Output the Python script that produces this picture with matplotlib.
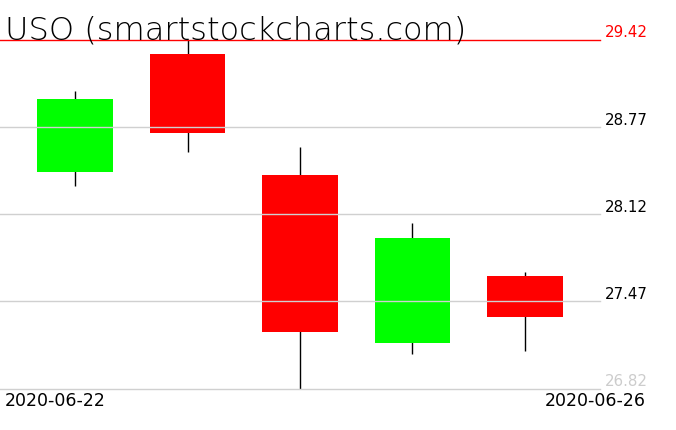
import matplotlib
matplotlib.use("Agg")
import matplotlib.pyplot as plt

# ------------------------------------------------------------
# Data: USO daily candles
# ------------------------------------------------------------
dates = ["2020-06-22", "2020-06-23", "2020-06-24", "2020-06-25", "2020-06-26"]
opens = [28.43, 29.31, 28.41, 27.16, 27.66]
highs = [29.04, 29.42, 28.62, 28.05, 27.69]
lows = [28.33, 28.58, 26.82, 27.08, 27.10]
closes = [28.98, 28.72, 27.24, 27.94, 27.35]

y_ticks = [26.82, 27.47, 28.12, 28.77, 29.42]
tick_colors = ["#cccccc", "black", "black", "black", "red"]

W, H = 676, 431
fig = plt.figure(figsize=(W / 100, H / 100), dpi=100)
ax = fig.add_axes([0, 1 - 389.5 / H, 600 / W, (389.5 - 40.5) / H])

# grid lines
for t in y_ticks[:-1]:
    ax.axhline(t, color="#d0d0d0", lw=1.0, zorder=3, clip_on=False)
ax.axhline(y_ticks[-1], color="red", lw=1.0, zorder=3, clip_on=False)

# candles
for i in range(len(dates)):
    up = closes[i] >= opens[i]
    color = "#00ff00" if up else "#ff0000"
    ax.vlines(i, lows[i], highs[i], color="black", lw=1.0, zorder=1)
    lo, hi = min(opens[i], closes[i]), max(opens[i], closes[i])
    ax.bar(i, hi - lo, bottom=lo, width=0.67, color=color, lw=0, zorder=2)

ax.set_xlim(-0.667, 4.667)
ax.set_ylim(y_ticks[0], y_ticks[-1])
ax.axis("off")

# price labels on the right
for t, c in zip(y_ticks, tick_colors):
    ax.text(605 / 600, t, f"{t:.2f}", transform=ax.get_yaxis_transform(),
            color=c, fontsize=10.8, ha="left", va="bottom", zorder=4)

# title
fig.text(5 / W, 1 - 39 / H, "USO (smartstockcharts.com)", fontsize=23,
         fontweight="light", ha="left", va="baseline", color="black")

# date labels
fig.text(5 / W, 1 - 392 / H, dates[0], fontsize=12.5, ha="left", va="top")
fig.text(646 / W, 1 - 392 / H, dates[-1], fontsize=12.5, ha="right", va="top")

fig.savefig("out.png", dpi=100)
